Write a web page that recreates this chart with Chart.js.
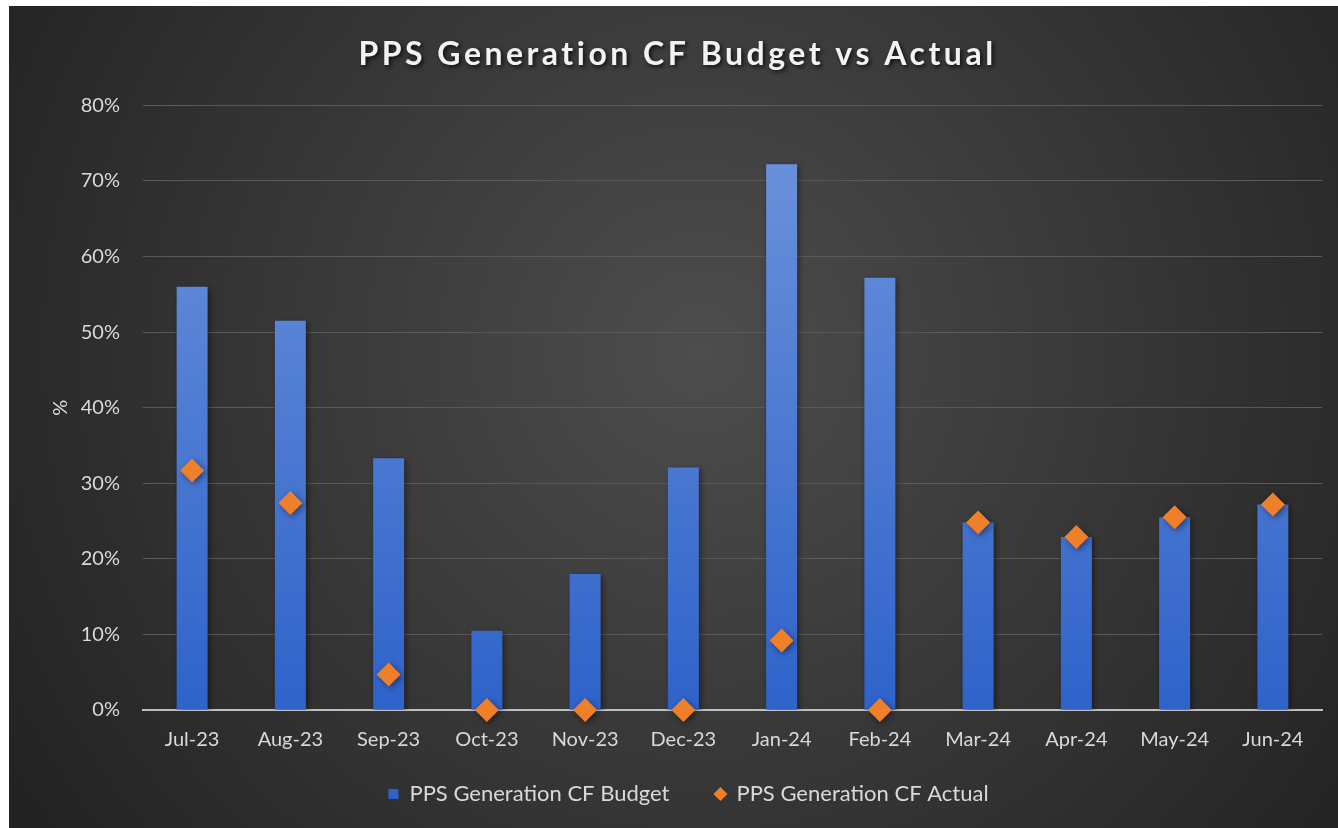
<!DOCTYPE html>
<html>
<head>
<meta charset="utf-8">
<script src="https://cdn.jsdelivr.net/npm/chart.js@4.4.1/dist/chart.umd.min.js"></script>
<style>
  html, body { margin: 0; padding: 0; background: #ffffff; }
  #wrap { position: absolute; left: 9px; top: 6px; width: 1329px; height: 822px; }
</style>
</head>
<body>
<div id="wrap"><canvas id="myChart" width="1329" height="822"></canvas></div>
<script>
// months on the x axis
const months = ['Jul-23', 'Aug-23', 'Sep-23', 'Oct-23', 'Nov-23', 'Dec-23',
                'Jan-24', 'Feb-24', 'Mar-24', 'Apr-24', 'May-24', 'Jun-24'];

// capacity factor, in percent
const budgetCF = [56.0, 51.5, 33.3, 10.5, 18.0, 32.1, 72.2, 57.2, 24.8, 22.9, 25.5, 27.2];
const actualCF = [31.7, 27.4, 4.7, 0, 0, 0, 9.2, 0, 24.8, 22.9, 25.5, 27.2];

const yTicks = [0, 10, 20, 30, 40, 50, 60, 70, 80];

const FONT = 'Lato, "Noto Sans", sans-serif';
const TEXT = '#d9d9d9';
const LEGEND_GAP = 46;   // horizontal gap between the two legend items
const LEGEND_PAD = 13;   // vertical padding we actually want

// dark radial backdrop like the excel theme
const backdrop = {
  id: 'backdrop',
  beforeDraw(chart) {
    const c = chart.ctx, w = chart.width, h = chart.height;
    const g = c.createRadialGradient(w * 0.52, h * 0.42, 0, w * 0.52, h * 0.42, w * 0.62);
    g.addColorStop(0, '#4d4d4d');
    g.addColorStop(1, '#222222');
    c.save();
    c.fillStyle = g;
    c.fillRect(0, 0, w, h);
    c.restore();
  }
};

// soft shadows, title letter spacing, and a legend whose item gap is wider than its top padding
const tweaks = {
  id: 'tweaks',
  afterInit(chart) {
    const t = chart.titleBlock;
    if (t && !t._patched) {
      const d = t.draw.bind(t);
      t.draw = function () {
        const c = chart.ctx;
        c.save();
        c.translate(12, 0);
        c.letterSpacing = '3.5px';
        c.shadowColor = 'rgba(0,0,0,0.75)';
        c.shadowBlur = 4;
        c.shadowOffsetX = 2;
        c.shadowOffsetY = 2;
        d();
        c.restore();
      };
      t._patched = true;
    }
    const lg = chart.legend;
    if (lg && !lg._patched) {
      const extra = LEGEND_GAP - LEGEND_PAD;
      const f = lg.fit.bind(lg);
      lg.fit = function () {
        f();
        this.height -= extra;
      };
      const dr = lg.draw.bind(lg);
      lg.draw = function () {
        const top = this.top, left = this.left, right = this.right;
        this.top = top - extra;
        // row width counts a trailing gap, so nudge it back to the middle
        this.left = left + LEGEND_GAP / 2;
        this.right = right + LEGEND_GAP / 2;
        dr();
        this.top = top;
        this.left = left;
        this.right = right;
      };
      lg._patched = true;
    }
  },
  beforeDatasetDraw(chart) {
    const c = chart.ctx;
    c.save();
    c.shadowColor = 'rgba(0,0,0,0.45)';
    c.shadowBlur = 6;
    c.shadowOffsetX = 2;
    c.shadowOffsetY = 2;
  },
  afterDatasetDraw(chart) {
    chart.ctx.restore();
  }
};

function barFill(context) {
  const area = context.chart.chartArea;
  if (!area) return '#4472c4';
  const g = context.chart.ctx.createLinearGradient(0, area.top, 0, area.bottom);
  g.addColorStop(0, '#6f95dc');
  g.addColorStop(1, '#2f63ca');
  return g;
}

const ctx = document.getElementById('myChart').getContext('2d');
const chart = new Chart(ctx, {
  type: 'bar',
  data: {
    labels: months,
    datasets: [{
      type: 'line',
      label: 'PPS Generation CF Actual',
      data: actualCF,
      showLine: false,
      clip: false,
      pointStyle: 'rectRot',
      pointRadius: 12,
      pointHoverRadius: 12,
      backgroundColor: '#f07f2a',
      borderColor: '#f07f2a',
      borderWidth: 0,
      order: 1
    }, {
      type: 'bar',
      label: 'PPS Generation CF Budget',
      data: budgetCF,
      backgroundColor: barFill,
      borderWidth: 0,
      categoryPercentage: 1.0,
      barPercentage: 0.315,
      pointStyle: 'rect',
      order: 2
    }]
  },
  options: {
    responsive: false,
    animation: false,
    layout: { padding: { left: 0, right: 16, top: 0, bottom: 13 } },
    plugins: {
      title: {
        display: true,
        text: 'PPS Generation CF Budget vs Actual',
        color: '#f2f2f2',
        font: { family: FONT, size: 32, weight: 'bold' },
        padding: { top: 29, bottom: 32 }
      },
      legend: {
        position: 'bottom',
        reverse: true,
        labels: {
          color: TEXT,
          font: { family: FONT, size: 22 },
          usePointStyle: true,
          boxWidth: 10,
          boxHeight: 10,
          padding: LEGEND_GAP
        }
      },
      tooltip: { enabled: false }
    },
    scales: {
      x: {
        grid: { display: false, drawTicks: false },
        border: { display: true, color: '#bfbfbf', width: 2 },
        ticks: { color: TEXT, font: { family: FONT, size: 20 }, padding: 18 }
      },
      y: {
        min: 0,
        max: 80,
        afterBuildTicks(scale) {
          scale.ticks = yTicks.map(v => ({ value: v }));
        },
        afterFit(scale) { scale.width = 134; },
        grid: { color: '#5a5a5a', lineWidth: 1, drawTicks: false },
        border: { display: false },
        ticks: {
          color: TEXT,
          font: { family: FONT, size: 20 },
          padding: 23,
          callback: v => v + '%'
        },
        title: {
          display: true,
          text: '%',
          color: TEXT,
          font: { family: FONT, size: 20 },
          padding: { top: 40, bottom: 0 }
        }
      }
    }
  },
  plugins: [backdrop, tweaks]
});
</script>
</body>
</html>
